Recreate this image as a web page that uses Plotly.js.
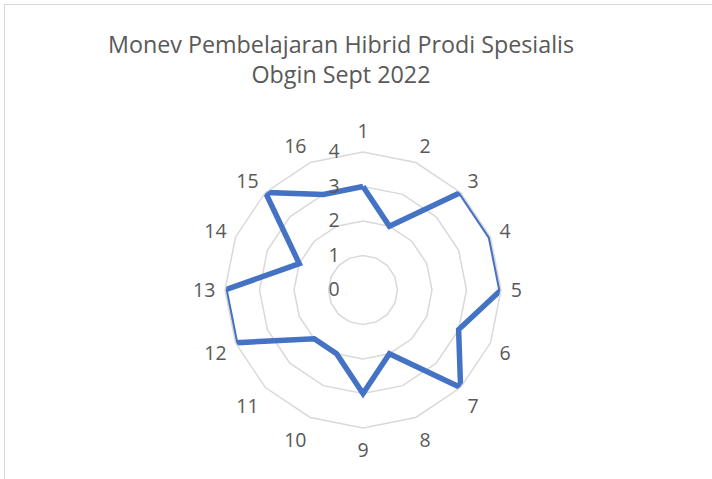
<!DOCTYPE html>
<html>
<head>
<meta charset="utf-8">
<script src="https://cdn.plot.ly/plotly-3.0.1.min.js"></script>
<style>
html,body{margin:0;padding:0;background:#fff;overflow:hidden;}
#wrap{position:relative;width:712px;height:479px;}
#frame{position:absolute;left:4px;top:4px;width:800px;height:600px;border-top:1.5px solid #d9d9d9;border-left:1.5px solid #d9d9d9;pointer-events:none;z-index:5;}
#chart{position:absolute;left:0;top:0;width:712px;height:479px;}
</style>
</head>
<body>
<div id="wrap"><div id="chart"></div><div id="frame"></div></div>
<script>
const categories = ["1","2","3","4","5","6","7","8","9","10","11","12","13","14","15","16"];
const values = [3, 2, 4, 4, 4, 3, 4, 2, 3, 2, 2, 4, 4, 2, 4, 3];
const radialTicks = [0, 1, 2, 3, 4];

const r = values.concat([values[0]]);
const theta = categories.concat([categories[0]]);

const trace = {
  type: 'scatterpolar',
  r: r,
  theta: theta,
  mode: 'lines',
  line: {color: '#4472C4', width: 5.5, shape: 'linear'},
  hoverinfo: 'skip',
  showlegend: false
};

const layout = {
  width: 712,
  height: 479,
  margin: {l: 225, r: 211, t: 152, b: 51, pad: 0},
  paper_bgcolor: 'rgba(0,0,0,0)',
  font: {family: 'Open Sans, sans-serif', color: '#595959'},
  title: {
    text: 'Monev Pembelajaran Hibrid Prodi Spesialis<br>Obgin Sept 2022',
    font: {family: 'Open Sans, sans-serif', size: 23.3, color: '#595959'},
    xref: 'container', yref: 'container',
    x: 341/712, xanchor: 'center',
    y: 1 - 53/479, yanchor: 'middle'
  },
  polar: {
    domain: {x: [0, 1], y: [0, 1]},
    bgcolor: 'rgba(0,0,0,0)',
    gridshape: 'linear',
    radialaxis: {
      range: [0, 4],
      tickvals: radialTicks,
      ticktext: radialTicks.map(String),
      angle: 90,
      tickangle: 90,
      side: 'counterclockwise',
      showline: false,
      ticks: 'outside',
      ticklen: 16,
      tickcolor: 'rgba(0,0,0,0)',
      gridcolor: '#d9d9d9',
      gridwidth: 1.5,
      tickfont: {size: 19.5, color: '#595959', family: 'Open Sans, sans-serif'}
    },
    angularaxis: {
      type: 'category',
      categoryarray: categories,
      rotation: 90,
      direction: 'clockwise',
      showgrid: false,
      showline: true,
      linecolor: '#d9d9d9',
      linewidth: 1.5,
      ticks: 'outside',
      ticklen: 5,
      tickcolor: 'rgba(0,0,0,0)',
      tickfont: {size: 19.5, color: '#595959', family: 'Open Sans, sans-serif'}
    }
  }
};

Plotly.newPlot('chart', [trace], layout, {staticPlot: true, displayModeBar: false});
</script>
</body>
</html>
